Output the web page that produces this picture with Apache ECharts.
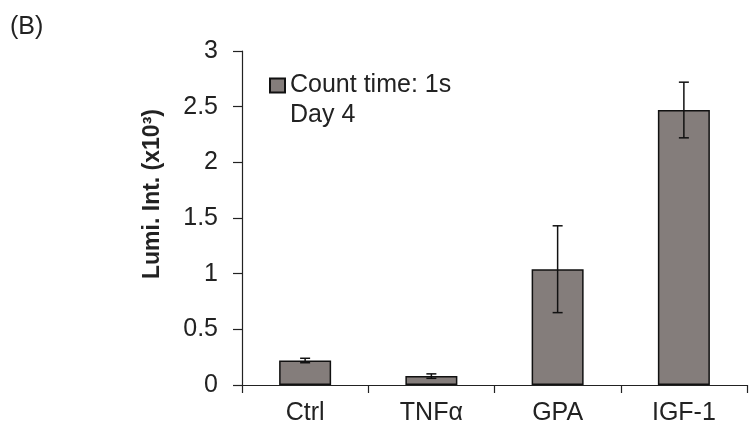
<!DOCTYPE html>
<html>
<head>
<meta charset="utf-8">
<script src="https://cdn.jsdelivr.net/npm/echarts@6/dist/echarts.min.js"></script>
<style>
  html, body { margin: 0; padding: 0; background: #fff; }
  #chart { width: 750px; height: 432px; }
</style>
</head>
<body>
<div id="chart"></div>
<script>
var categories = ['Ctrl', 'TNF\u03b1', 'GPA', 'IGF-1'];
var lumiValues = [0.22, 0.08, 1.04, 2.47];
var lumiErrors = [0.02, 0.02, 0.39, 0.25];
var yTicks = { min: 0, max: 3, interval: 0.5 };

var errorData = lumiValues.map(function (v, i) {
    return [i, v - lumiErrors[i], v + lumiErrors[i]];
});

var myChart = echarts.init(document.getElementById('chart'));
var font = 'Liberation Sans, Arial, sans-serif';
var option = {
    animation: false,
    title: {
        text: '(B)',
        left: 10,
        top: 15,
        padding: 0,
        textStyle: { fontFamily: font, fontSize: 25, fontWeight: 'normal', color: '#222' }
    },
    legend: {
        data: [{ name: 'Count time: 1s', icon: 'rect' }],
        left: 269,
        top: 73,
        padding: 0,
        itemWidth: 15,
        itemHeight: 14,
        textStyle: { fontFamily: font, fontSize: 25, color: '#222' }
    },
    graphic: [{
        type: 'text',
        left: 290,
        top: 103,
        style: { text: 'Day 4', font: '25px ' + font, fill: '#222' }
    }],
    grid: { left: 242, right: 3, top: 51, bottom: 47 },
    xAxis: {
        type: 'category',
        data: categories,
        axisLine: { lineStyle: { color: '#222', width: 1.2 } },
        axisTick: { show: true, length: 8, lineStyle: { color: '#222', width: 1.2 } },
        axisLabel: { fontFamily: font, fontSize: 25, color: '#222', margin: 16 }
    },
    yAxis: {
        type: 'value',
        min: yTicks.min,
        max: yTicks.max,
        interval: yTicks.interval,
        name: 'Lumi. Int. (x10\u00b3)',
        nameLocation: 'middle',
        nameGap: 78,
        nameTextStyle: { fontFamily: font, fontSize: 23, fontWeight: 'bold', color: '#222', padding: [0, 0, 0, 48] },
        splitLine: { show: false },
        axisLine: { show: true, lineStyle: { color: '#222', width: 1.2 } },
        axisTick: { show: true, inside: false, length: 9, lineStyle: { color: '#222', width: 1.2 } },
        axisLabel: { fontFamily: font, fontSize: 25, color: '#222', margin: 24 }
    },
    series: [{
        name: 'Count time: 1s',
        type: 'bar',
        data: lumiValues,
        barWidth: 52,
        itemStyle: { color: '#847d7b', borderColor: '#111', borderWidth: 1.5 }
    }, {
        type: 'custom',
        name: 'err',
        data: errorData,
        z: 10,
        renderItem: function (params, api) {
            var x = api.value(0);
            var lo = api.coord([x, api.value(1)]);
            var hi = api.coord([x, api.value(2)]);
            var hw = 5;
            var st = { stroke: '#111', lineWidth: 1.5 };
            return {
                type: 'group',
                children: [
                    { type: 'line', shape: { x1: lo[0], y1: lo[1], x2: hi[0], y2: hi[1] }, style: st },
                    { type: 'line', shape: { x1: lo[0] - hw, y1: lo[1], x2: lo[0] + hw, y2: lo[1] }, style: st },
                    { type: 'line', shape: { x1: hi[0] - hw, y1: hi[1], x2: hi[0] + hw, y2: hi[1] }, style: st }
                ]
            };
        }
    }]
};
myChart.setOption(option);
</script>
</body>
</html>
